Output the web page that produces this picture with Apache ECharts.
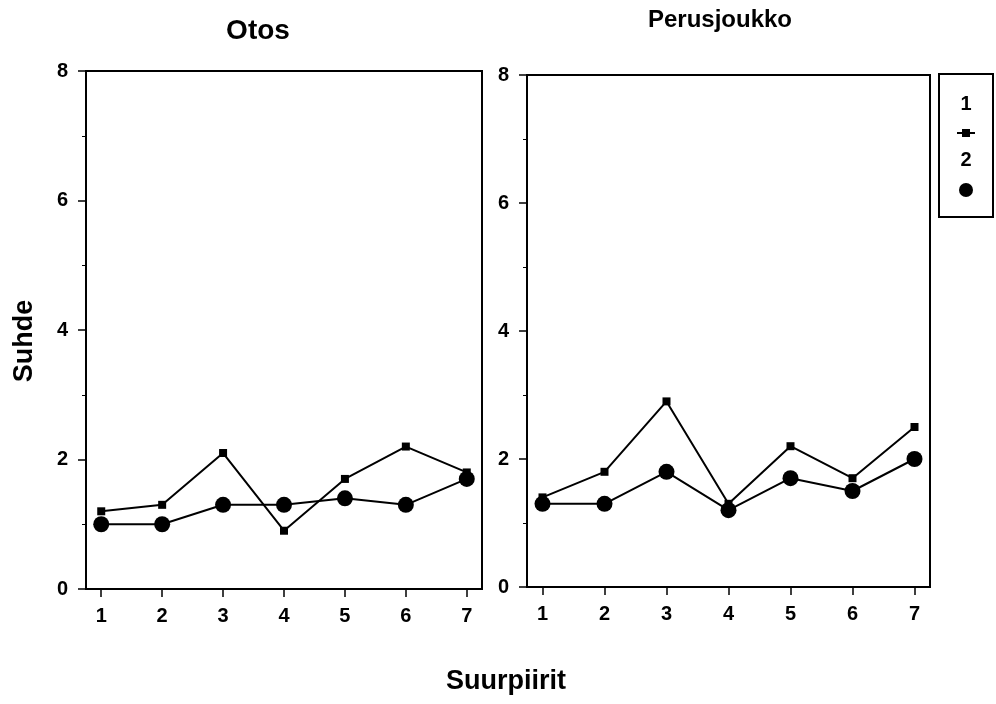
<!DOCTYPE html>
<html>
<head>
<meta charset="utf-8">
<script src="https://cdn.jsdelivr.net/npm/echarts@6/dist/echarts.min.js"></script>
<style>
html,body{margin:0;padding:0;background:#fff;}
#chart{width:996px;height:704px;}
</style>
</head>
<body>
<div id="chart"></div>
<script>
var districts = [1, 2, 3, 4, 5, 6, 7];
var yTicks = [0, 2, 4, 6, 8];
var panelTitles = ['Otos', 'Perusjoukko'];
var seriesNames = ['1', '2'];
var otos1 = [1.2, 1.3, 2.1, 0.9, 1.7, 2.2, 1.8];
var otos2 = [1.0, 1.0, 1.3, 1.3, 1.4, 1.3, 1.7];
var perus1 = [1.4, 1.8, 2.9, 1.3, 2.2, 1.7, 2.5];
var perus2 = [1.3, 1.3, 1.8, 1.2, 1.7, 1.5, 2.0];

function pairs(vals) {
  return districts.map(function (d, i) { return [d, vals[i]]; });
}

var FONT = '"Liberation Sans", Arial, sans-serif';
var chart = echarts.init(document.getElementById('chart'), null, {renderer: 'canvas'});

function xAxis(gi) {
  return {
    type: 'value', gridIndex: gi, min: 0.75, max: 7.25,
    axisLine: {show: true, onZero: false, lineStyle: {color: '#000', width: 2}},
    axisTick: {show: true, length: 8, lineStyle: {color: '#000', width: 1.5}, customValues: districts},
    axisLabel: {color: '#000', fontSize: 20, fontWeight: 'bold', fontFamily: FONT, margin: 17, customValues: districts},
    splitLine: {show: false}
  };
}
function yAxis(gi) {
  return {
    type: 'value', gridIndex: gi, min: yTicks[0], max: yTicks[yTicks.length - 1], interval: 2,
    axisLine: {show: true, lineStyle: {color: '#000', width: 2}},
    axisTick: {show: true, length: 8, lineStyle: {color: '#000', width: 1.5}},
    minorTick: {show: true, splitNumber: 2, length: 4, lineStyle: {color: '#000', width: 1}},
    axisLabel: {color: '#000', fontSize: 20, fontWeight: 'bold', fontFamily: FONT, margin: 18},
    splitLine: {show: false}
  };
}
function lineSeries(name, data, gi, symbol, size) {
  return {
    name: name, type: 'line', xAxisIndex: gi, yAxisIndex: gi,
    data: pairs(data), symbol: symbol, symbolSize: size,
    lineStyle: {color: '#000', width: 2},
    itemStyle: {color: '#000'},
    z: symbol === 'circle' ? 3 : 2,
    animation: false
  };
}
function label(text, x, y, size, extra) {
  var o = {type: 'text', x: x, y: y,
    style: {text: text, fontSize: size, fontWeight: 'bold', fontFamily: FONT, fill: '#000', align: 'center', verticalAlign: 'middle'}};
  if (extra) { for (var k in extra) o[k] = extra[k]; }
  return o;
}

var option = {
  backgroundColor: '#fff',
  animation: false,
  grid: [
    {left: 86, top: 71, width: 396, height: 518, show: true, borderColor: '#000', borderWidth: 2, backgroundColor: 'transparent'},
    {left: 527, top: 75, width: 403, height: 512, show: true, borderColor: '#000', borderWidth: 2, backgroundColor: 'transparent'}
  ],
  xAxis: [xAxis(0), xAxis(1)],
  yAxis: [yAxis(0), yAxis(1)],
  series: [
    lineSeries(seriesNames[0], otos1, 0, 'rect', 8),
    lineSeries(seriesNames[1], otos2, 0, 'circle', 16),
    lineSeries(seriesNames[0], perus1, 1, 'rect', 8),
    lineSeries(seriesNames[1], perus2, 1, 'circle', 16)
  ],
  graphic: [
    label(panelTitles[0], 258, 31, 28),
    label(panelTitles[1], 720, 20, 24),
    label('Suhde', 25, 341, 27, {rotation: Math.PI / 2}),
    label('Suurpiirit', 506, 682, 27),
    {type: 'rect', shape: {x: 939, y: 74, width: 54, height: 143},
     style: {fill: '#fff', stroke: '#000', lineWidth: 2}},
    label(seriesNames[0], 966, 104, 20),
    {type: 'line', shape: {x1: 957, y1: 133, x2: 975, y2: 133}, style: {stroke: '#000', lineWidth: 2}},
    {type: 'rect', shape: {x: 962, y: 129, width: 8, height: 8}, style: {fill: '#000'}},
    label(seriesNames[1], 966, 160, 20),
    {type: 'circle', shape: {cx: 966, cy: 190, r: 7}, style: {fill: '#000'}}
  ]
};
chart.setOption(option);
</script>
</body>
</html>
